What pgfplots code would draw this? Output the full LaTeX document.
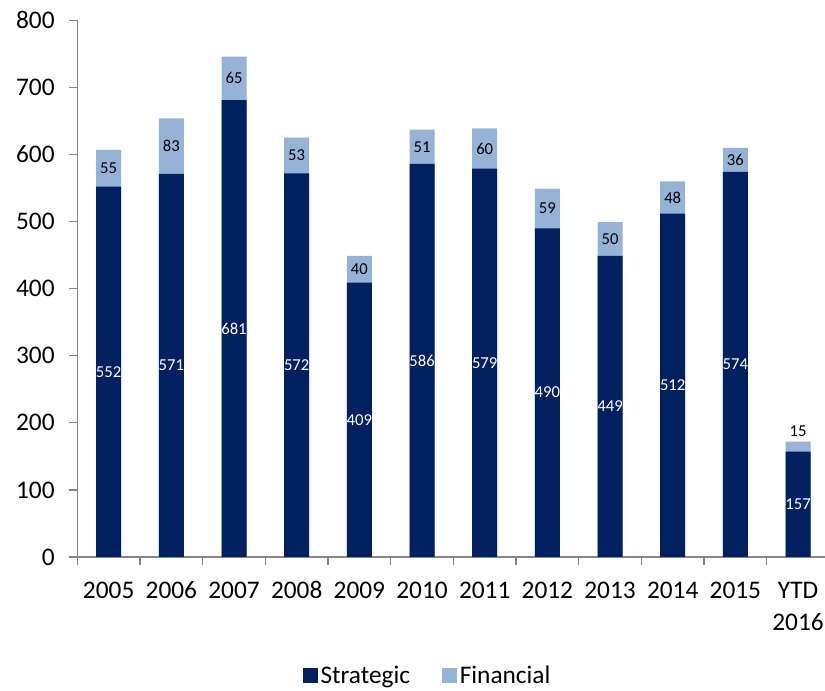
\documentclass[border=0pt]{standalone}
\usepackage{pgfplots}
\pgfplotsset{compat=1.18}
\usepackage{pgfplotstable}
\usepackage{fontspec}
\setmainfont{Carlito}
\definecolor{navy}{RGB}{0,32,96}
\definecolor{lightb}{RGB}{149,179,215}
\definecolor{axgray}{RGB}{134,134,134}

\pgfplotstableread{
x s f
0 552 55
1 571 83
2 681 65
3 572 53
4 409 40
5 586 51
6 579 60
7 490 59
8 449 50
9 512 48
10 574 36
11 157 15
}\data

\begin{document}
\begin{tikzpicture}
\useasboundingbox (-58pt,-100.5pt) rectangle (560.8pt,417.75pt);
\begin{axis}[
 at={(0,0)}, anchor=south west, scale only axis,
 width=560.8pt, height=402.5pt,
 xmin=-0.5, xmax=11.43, ymin=0, ymax=800,
 axis x line*=bottom, axis y line*=left,
 axis line style={draw=axgray, line width=1pt},
 tick align=outside, major tick length=6pt,
 tick style={draw=axgray, line width=1pt},
 ytick={0,100,...,800},
 xtick={-0.5,0.5,...,10.5}, xticklabels={},
 extra x ticks={0,1,...,11},
 extra x tick labels={2005,2006,2007,2008,2009,2010,2011,2012,2013,2014,2015,{\begin{tabular}[t]{@{}c@{}}YTD\\2016\end{tabular}}},
 extra x tick style={major tick length=0pt},
 ticklabel style={font=\fontsize{19}{23.7}\selectfont},
 x tick label style={anchor=base, yshift=-31.5pt},
 y tick label style={xshift=-7.5pt},
 /pgf/number format/assume math mode=true,
 legend style={at={(0.469,-0.2215)}, anchor=center, draw=none, legend columns=2,
   font=\fontsize{19}{23}\selectfont,
   /tikz/every even column/.append style={column sep=22pt}},
 legend image code/.code={\fill[#1] (0pt,-5.6pt) rectangle (11.25pt,5.6pt);},
 legend cell align=left,
]
\addlegendimage{fill=navy, draw=none}
\addlegendentry{Strategic}
\addlegendimage{fill=lightb, draw=none}
\addlegendentry{Financial}

\addplot[ybar, bar width=18.75pt, bar shift=0pt, fill=lightb, draw=none, forget plot]
  table[x=x, y expr=\thisrow{s}+\thisrow{f}] {\data};
\addplot[ybar, bar width=18.75pt, bar shift=0pt, fill=navy, draw=none, forget plot]
  table[x=x, y=s] {\data};

\addplot[draw=none, mark=none, forget plot,
  nodes near coords, point meta=explicit,
  nodes near coords style={font=\fontsize{12.5}{15}\selectfont, text=white, anchor=center}]
  table[x=x, y expr=\thisrow{s}/2, meta=s] {\data};
\addplot[draw=none, mark=none, forget plot,
  skip coords between index={11}{12},
  nodes near coords, point meta=explicit,
  nodes near coords style={font=\fontsize{12.5}{15}\selectfont, text=black, anchor=center}]
  table[x=x, y expr=\thisrow{s}+\thisrow{f}/2, meta=f] {\data};
\addplot[draw=none, mark=none, forget plot,
  skip coords between index={0}{11},
  nodes near coords, point meta=explicit,
  nodes near coords style={font=\fontsize{12.5}{15}\selectfont, text=black, anchor=south}]
  table[x=x, y expr=\thisrow{s}+\thisrow{f}, meta=f] {\data};
\end{axis}
\end{tikzpicture}
\end{document}
